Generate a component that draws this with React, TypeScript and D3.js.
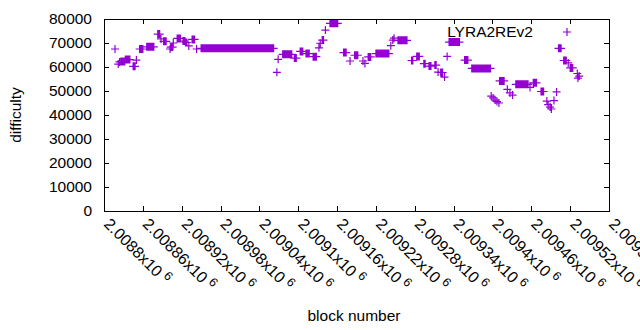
import React, { useEffect } from "react";
import * as d3 from "d3";

// difficulty runs: [first block, last block, difficulty]
const runs: [number, number, number][] = [
  [2008817, 2008817, 67500],
  [2008822, 2008822, 61200],
  [2008824, 2008824, 62100],
  [2008826, 2008832, 62300],
  [2008833, 2008840, 63100],
  [2008845, 2008848, 60300],
  [2008850, 2008850, 62900],
  [2008855, 2008860, 67500],
  [2008866, 2008877, 68400],
  [2008883, 2008886, 73700],
  [2008888, 2008888, 71700],
  [2008892, 2008896, 70700],
  [2008902, 2008902, 67500],
  [2008903, 2008906, 68300],
  [2008907, 2008907, 70000],
  [2008913, 2008918, 71900],
  [2008922, 2008925, 70800],
  [2008926, 2008928, 70200],
  [2008931, 2008931, 68800],
  [2008936, 2008940, 71500],
  [2008943, 2008943, 67500],
  [2008950, 2009062, 67800],
  [2009067, 2009067, 57800],
  [2009069, 2009069, 63200],
  [2009076, 2009090, 65300],
  [2009094, 2009097, 63700],
  [2009103, 2009107, 66500],
  [2009112, 2009117, 65600],
  [2009123, 2009128, 64300],
  [2009132, 2009132, 68000],
  [2009134, 2009134, 69900],
  [2009137, 2009139, 71200],
  [2009142, 2009142, 75400],
  [2009149, 2009161, 78200],
  [2009170, 2009174, 66000],
  [2009180, 2009180, 62500],
  [2009187, 2009192, 64900],
  [2009200, 2009200, 62500],
  [2009203, 2009203, 61500],
  [2009208, 2009212, 64200],
  [2009220, 2009240, 65600],
  [2009243, 2009243, 68900],
  [2009246, 2009246, 71200],
  [2009248, 2009248, 72000],
  [2009254, 2009268, 71100],
  [2009275, 2009277, 62700],
  [2009283, 2009287, 64400],
  [2009294, 2009296, 61400],
  [2009302, 2009305, 60400],
  [2009311, 2009313, 60800],
  [2009316, 2009316, 57900],
  [2009320, 2009323, 57700],
  [2009326, 2009326, 55800],
  [2009330, 2009330, 64400],
  [2009333, 2009349, 70400],
  [2009357, 2009362, 62900],
  [2009368, 2009397, 59400],
  [2009398, 2009398, 47900],
  [2009401, 2009401, 47100],
  [2009404, 2009404, 46200],
  [2009407, 2009407, 45600],
  [2009410, 2009410, 45000],
  [2009411, 2009418, 54200],
  [2009423, 2009423, 50700],
  [2009427, 2009427, 49200],
  [2009431, 2009431, 48300],
  [2009436, 2009455, 52800],
  [2009458, 2009458, 51500],
  [2009463, 2009468, 53400],
  [2009475, 2009479, 49800],
  [2009484, 2009484, 45800],
  [2009486, 2009486, 44300],
  [2009489, 2009489, 43300],
  [2009491, 2009491, 42500],
  [2009495, 2009495, 46000],
  [2009499, 2009499, 49600],
  [2009502, 2009506, 67800],
  [2009510, 2009514, 62700],
  [2009517, 2009517, 61700],
  [2009520, 2009524, 59600],
  [2009531, 2009531, 57300],
  [2009532, 2009532, 55400],
  [2009534, 2009534, 56200],
];

const xTicks = [
  2008800, 2008860, 2008920, 2008980, 2009040, 2009100, 2009160,
  2009220, 2009280, 2009340, 2009400, 2009460, 2009520, 2009580,
];
const xTickLabels = [
  "2.0088", "2.00886", "2.00892", "2.00898", "2.00904", "2.0091", "2.00916",
  "2.00922", "2.00928", "2.00934", "2.0094", "2.00946", "2.00952", "2.00958",
];
const yTicks = [0, 10000, 20000, 30000, 40000, 50000, 60000, 70000, 80000];

const seriesName = "LYRA2REv2";
const color = "#9400d3";
const font = "'Liberation Sans', Arial, sans-serif";

export default function App() {
  useEffect(() => {
    document.body.style.margin = "0";
  }, []);

  const width = 640;
  const height = 330;
  const left = 104, right = 609, top = 19, bottom = 211;

  const x = d3.scaleLinear().domain([2008800, 2009580]).range([left, right]);
  const y = d3.scaleLinear().domain([0, 80000]).range([bottom, top]);

  const points: { b: number; v: number }[] = [];
  runs.forEach(([s, e, v]) => {
    for (let b = s; b <= e; b++) points.push({ b, v });
  });

  const h = 4; // half size of the "+" marker
  const plus = (cx: number, cy: number) =>
    `M${cx - h},${cy}H${cx + h}M${cx},${cy - h}V${cy + h}`;
  const markerPath = points.map((p) => plus(x(p.b), y(p.v))).join("");

  const tl = 5;

  return (
    <svg width={width} height={height} style={{ display: "block", background: "#fff" }}>
      {/* mirrored ticks */}
      <g stroke="#000" strokeWidth={1} shapeRendering="crispEdges">
        {yTicks.map((t) => (
          <g key={"y" + t}>
            <line x1={left} x2={left + tl} y1={Math.round(y(t)) + 0.5} y2={Math.round(y(t)) + 0.5} />
            <line x1={right - tl} x2={right} y1={Math.round(y(t)) + 0.5} y2={Math.round(y(t)) + 0.5} />
          </g>
        ))}
        {xTicks.map((t) => (
          <g key={"x" + t}>
            <line x1={Math.round(x(t)) + 0.5} x2={Math.round(x(t)) + 0.5} y1={bottom} y2={bottom - tl} />
            <line x1={Math.round(x(t)) + 0.5} x2={Math.round(x(t)) + 0.5} y1={top} y2={top + tl} />
          </g>
        ))}
      </g>

      <path d={markerPath} stroke={color} strokeWidth={1.2} fill="none" />

      <rect
        x={left + 0.5}
        y={top + 0.5}
        width={right - left}
        height={bottom - top}
        fill="none"
        stroke="#000"
        strokeWidth={1}
        shapeRendering="crispEdges"
      />

      <g fontFamily={font} fontSize={15.5} fill="#000">
        {yTicks.map((t) => (
          <text key={"yl" + t} x={92} y={y(t)} dy="0.35em" textAnchor="end">
            {t}
          </text>
        ))}
        {xTicks.map((t, i) => (
          <text
            key={"xl" + t}
            transform={`translate(${x(t) - 1},${bottom + 14}) rotate(45)`}
            textAnchor="start"
            fontSize={16}
          >
            {xTickLabels[i]}x10
            <tspan dx={4} dy={-6} fontSize={12.5}>6</tspan>
          </text>
        ))}
        <text transform="translate(21,115) rotate(-90)" textAnchor="middle">
          difficulty
        </text>
        <text x={354} y={321} textAnchor="middle">
          block number
        </text>
        <text x={533} y={37} textAnchor="end">
          {seriesName}
        </text>
      </g>
      <path d={plus(567, 32)} stroke={color} strokeWidth={1.2} fill="none" />
    </svg>
  );
}
